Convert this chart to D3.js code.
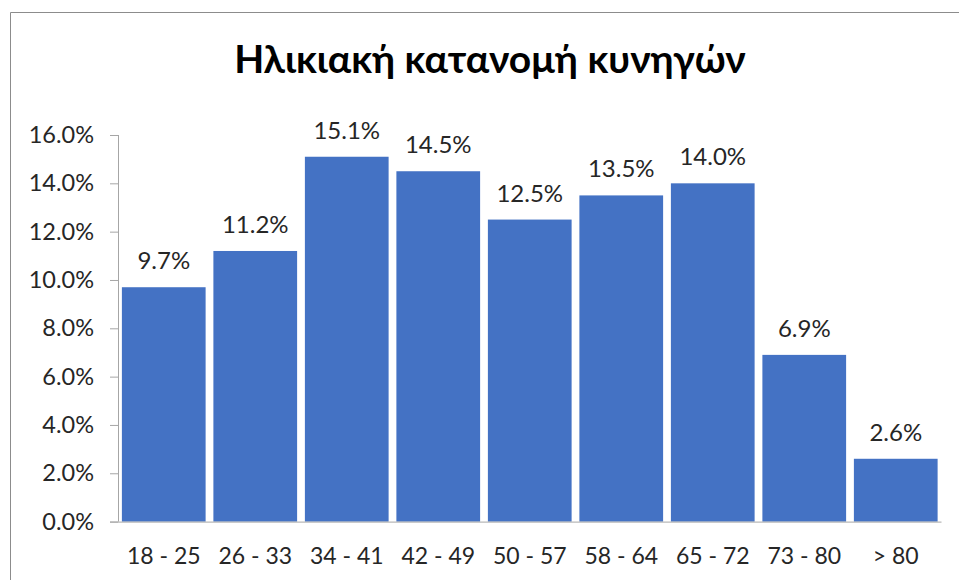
<!DOCTYPE html>
<html><head><meta charset="utf-8">
<script src="https://cdn.jsdelivr.net/npm/d3@7"></script>
<style>body{margin:0;background:#fff}svg{display:block}text{font-family:Lato,"Open Sans",sans-serif;fill:#262626}</style>
</head><body><svg id="c" width="959" height="580"></svg>
<script>
const title = "Ηλικιακή κατανομή κυνηγών";
const categories = ["18 - 25","26 - 33","34 - 41","42 - 49","50 - 57","58 - 64","65 - 72","73 - 80","> 80"];
const values = [9.7, 11.2, 15.1, 14.5, 12.5, 13.5, 14.0, 6.9, 2.6];
const yTicks = [0, 2, 4, 6, 8, 10, 12, 14, 16];

const svg = d3.select("#c");
svg.append("path").attr("d","M10.5,580 V12.5 H959").attr("fill","none").attr("stroke","#8c8c8c").attr("stroke-width",1);

const x = d3.scaleBand().domain(categories).range([118, 941.5]).paddingInner(0.085).paddingOuter(0.0425);
const y = d3.scaleLinear().domain([0, 16]).range([521.6, 135]);

svg.append("text").attr("x", 490).attr("y", 73).attr("text-anchor","middle")
  .style("font-size","39px").style("font-weight","bold").style("fill","#000").text(title);

svg.append("g").selectAll("rect").data(values).join("rect")
  .attr("x",(d,i)=>x(categories[i])).attr("width",x.bandwidth())
  .attr("y",d=>y(d)).attr("height",d=>y(0)-y(d)).attr("fill","#4472C4");

svg.append("g").selectAll("text").data(values).join("text")
  .attr("x",(d,i)=>x(categories[i])+x.bandwidth()/2).attr("y",d=>y(d)-18)
  .attr("text-anchor","middle").style("font-size","24px").text(d=>d.toFixed(1)+"%");

const ya = svg.append("g").attr("transform","translate(118,0)")
  .call(d3.axisLeft(y).tickValues(yTicks).tickSize(8).tickPadding(16).tickFormat(d=>d.toFixed(1)+"%"));
ya.selectAll("line,path").attr("stroke","#a6a6a6");
ya.select(".domain").attr("d","M0.5,521.6V135");
ya.selectAll("text").style("font-size","23.5px").attr("font-family",null);

const xa = svg.append("g").attr("transform","translate(0,521.6)")
  .call(d3.axisBottom(x).tickSize(0).tickPadding(26));
xa.select(".domain").attr("stroke","#a6a6a6").attr("d","M110,0.5H941.5");
xa.selectAll("text").style("font-size","23px").attr("font-family",null);
</script></body></html>
